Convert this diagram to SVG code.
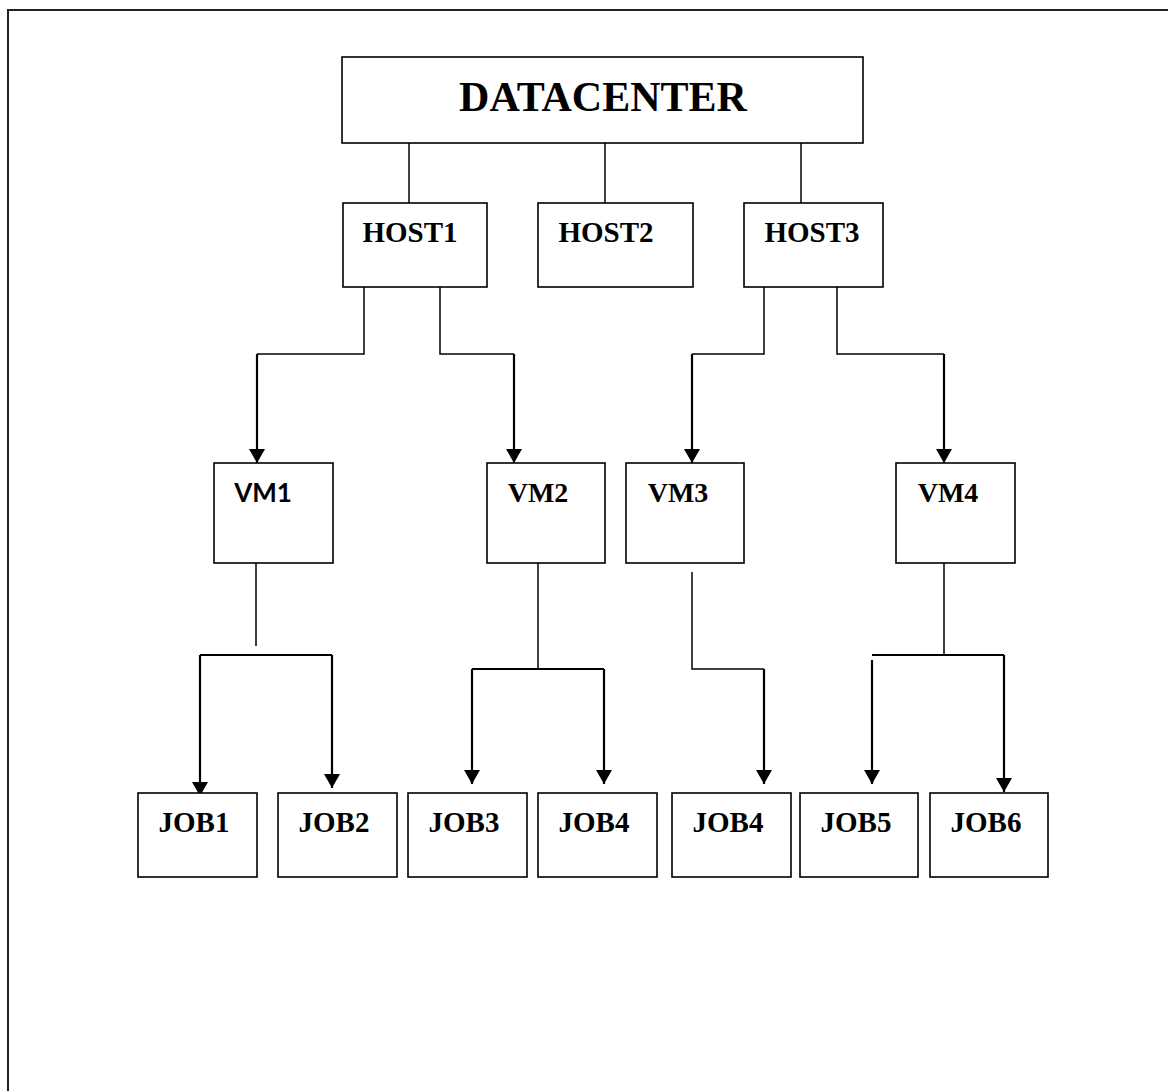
<svg xmlns="http://www.w3.org/2000/svg" width="1168" height="1091" viewBox="0 0 1168 1091">
  <style>
    .box { fill: #ffffff; stroke: #000000; stroke-width: 1.6; }
    .serif { font-family: "Liberation Serif", "Times New Roman", serif; font-weight: bold; fill: #000000; text-anchor: middle; }
    .sans { font-family: Lato, "Liberation Sans", sans-serif; font-weight: bold; fill: #000000; text-anchor: middle; }
    .thin { fill: none; stroke: #000000; stroke-width: 1.5; }
    .thick { fill: none; stroke: #000000; stroke-width: 2.2; marker-end: url(#head); }
    .bar { fill: none; stroke: #000000; stroke-width: 2.2; }
  </style>
  <defs>
    <marker id="head" viewBox="0 0 14 16" refX="14" refY="8" markerWidth="14" markerHeight="16" markerUnits="userSpaceOnUse" orient="auto">
      <path d="M0,0 L14,8 L0,16 Z" fill="#000000"/>
    </marker>
  </defs>

  <rect width="1168" height="1091" fill="#ffffff"/>
  <!-- page frame -->
  <path d="M8,1091 V10 H1168" fill="none" stroke="#222222" stroke-width="2"/>

  <g id="connectors">
    <!-- datacenter to hosts -->
    <path class="thin" d="M409,143 V203"/>
    <path class="thin" d="M605,143 V203"/>
    <path class="thin" d="M801,143 V203"/>
    <!-- host1 to vm1 / vm2 -->
    <path class="thin" d="M364,287 V354 H257"/>
    <path class="thick" d="M257,354 V463"/>
    <path class="thin" d="M440,287 V354 H514"/>
    <path class="thick" d="M514,354 V463"/>
    <!-- host3 to vm3 / vm4 -->
    <path class="thin" d="M764,287 V354 H692"/>
    <path class="thick" d="M692,354 V463"/>
    <path class="thin" d="M837,287 V354 H944"/>
    <path class="thick" d="M944,354 V463"/>
    <!-- vm1 to job1 / job2 -->
    <path class="thin" d="M256,563 V646"/>
    <path class="bar" d="M200,655 H332"/>
    <path class="thick" d="M200,655 V796"/>
    <path class="thick" d="M332,655 V788"/>
    <!-- vm2 to job3 / job4 -->
    <path class="thin" d="M538,563 V669"/>
    <path class="bar" d="M472,669 H604"/>
    <path class="thick" d="M472,669 V784"/>
    <path class="thick" d="M604,669 V784"/>
    <!-- vm3 to job4 -->
    <path class="thin" d="M692,572 V669 H764"/>
    <path class="thick" d="M764,669 V784"/>
    <!-- vm4 to job5 / job6 -->
    <path class="thin" d="M944,563 V655"/>
    <path class="bar" d="M872,655 H1004"/>
    <path class="thick" d="M872,660 V784"/>
    <path class="thick" d="M1004,655 V792"/>
  </g>

  <g id="datacenter">
    <rect class="box" x="342" y="57" width="521" height="86"/>
    <text class="serif" x="603" y="111" font-size="42">DATACENTER</text>
  </g>

  <g id="host1">
    <rect class="box" x="343" y="203" width="144" height="84"/>
    <text class="serif" x="410" y="242" font-size="29">HOST1</text>
  </g>
  <g id="host2">
    <rect class="box" x="538" y="203" width="155" height="84"/>
    <text class="serif" x="606" y="242" font-size="29">HOST2</text>
  </g>
  <g id="host3">
    <rect class="box" x="744" y="203" width="139" height="84"/>
    <text class="serif" x="812" y="242" font-size="29">HOST3</text>
  </g>

  <g id="vm1">
    <rect class="box" x="214" y="463" width="119" height="100"/>
    <text class="sans" x="263" y="502" font-size="26">VM1</text>
  </g>
  <g id="vm2">
    <rect class="box" x="487" y="463" width="118" height="100"/>
    <text class="serif" x="538" y="502" font-size="28">VM2</text>
  </g>
  <g id="vm3">
    <rect class="box" x="626" y="463" width="118" height="100"/>
    <text class="serif" x="678" y="502" font-size="28">VM3</text>
  </g>
  <g id="vm4">
    <rect class="box" x="896" y="463" width="119" height="100"/>
    <text class="serif" x="948" y="502" font-size="28">VM4</text>
  </g>

  <g id="job1">
    <rect class="box" x="138" y="793" width="119" height="84"/>
    <text class="serif" x="194" y="832" font-size="29">JOB1</text>
  </g>
  <g id="job2">
    <rect class="box" x="278" y="793" width="119" height="84"/>
    <text class="serif" x="334" y="832" font-size="29">JOB2</text>
  </g>
  <g id="job3">
    <rect class="box" x="408" y="793" width="119" height="84"/>
    <text class="serif" x="464" y="832" font-size="29">JOB3</text>
  </g>
  <g id="job4">
    <rect class="box" x="538" y="793" width="119" height="84"/>
    <text class="serif" x="594" y="832" font-size="29">JOB4</text>
  </g>
  <g id="job4-vm3">
    <rect class="box" x="672" y="793" width="119" height="84"/>
    <text class="serif" x="728" y="832" font-size="29">JOB4</text>
  </g>
  <g id="job5">
    <rect class="box" x="800" y="793" width="118" height="84"/>
    <text class="serif" x="856" y="832" font-size="29">JOB5</text>
  </g>
  <g id="job6">
    <rect class="box" x="930" y="793" width="118" height="84"/>
    <text class="serif" x="986" y="832" font-size="29">JOB6</text>
  </g>
</svg>
